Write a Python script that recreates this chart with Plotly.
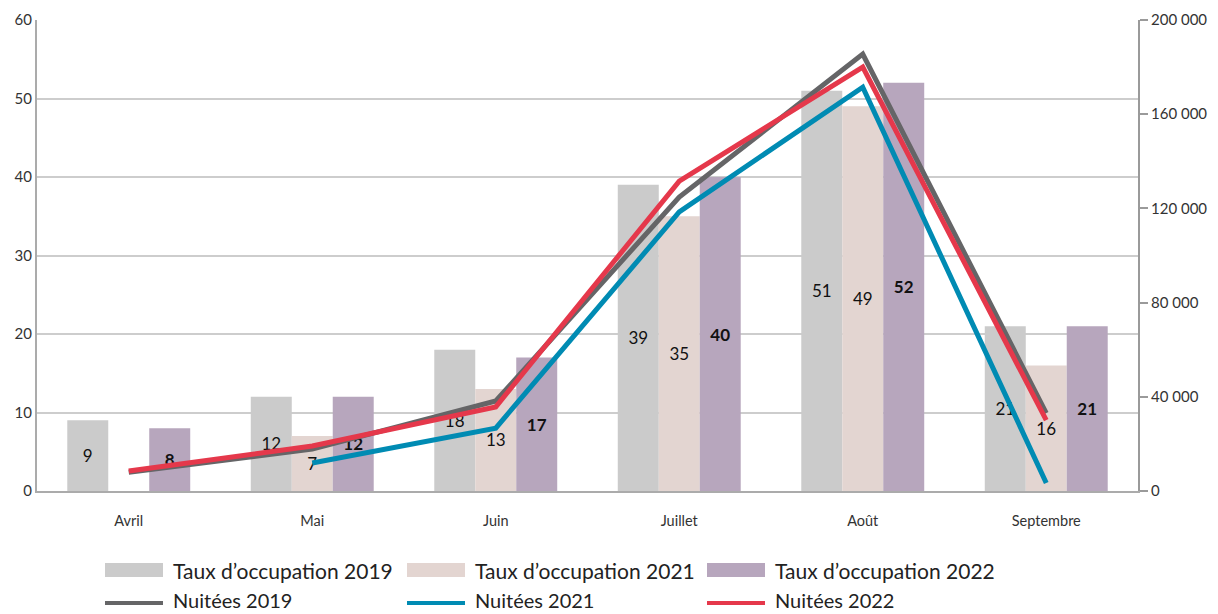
import plotly.graph_objects as go

months = ["Avril", "Mai", "Juin", "Juillet", "Août", "Septembre"]
taux_2019 = [9, 12, 18, 39, 51, 21]
taux_2021 = [None, 7, 13, 35, 49, 16]
taux_2022 = [8, 12, 17, 40, 52, 21]
nuitees_2019 = [8000, 17800, 38200, 124800, 185500, 33100]
nuitees_2021 = [None, 11900, 26700, 118500, 171500, 3400]
nuitees_2022 = [8500, 19100, 35700, 131600, 180000, 30100]
left_ticks = [0, 10, 20, 30, 40, 50, 60]
right_ticks = [0, 40000, 80000, 120000, 160000, 200000]
right_labels = ["0", "40 000", "80 000", "120 000", "160 000", "200 000"]

bar_names = ["Taux d’occupation 2019", "Taux d’occupation 2021", "Taux d’occupation 2022"]
line_names = ["Nuitées 2019", "Nuitées 2021", "Nuitées 2022"]
bar_colors = ["#cbcbcb", "#e3d5d1", "#b7a6bd"]
line_colors = ["#656567", "#008bb3", "#e5384b"]

FONT = "Lato"
TXT = "#222222"

fig = go.Figure()
for vals, name, col, bold in zip([taux_2019, taux_2021, taux_2022], bar_names, bar_colors,
                                 [False, False, True]):
    fig.add_trace(go.Bar(
        x=months, y=vals, name=name, marker=dict(color=col, line=dict(width=0)),
        texttemplate="<b>%{y}</b>" if bold else "%{y}",
        textposition="inside", insidetextanchor="middle", constraintext="none",
        textangle=0,
        textfont=dict(family=FONT, size=17, color="#111111"),
        showlegend=False,
    ))

for vals, name, col in zip([nuitees_2019, nuitees_2021, nuitees_2022], line_names, line_colors):
    fig.add_trace(go.Scatter(
        x=months, y=vals, name=name, yaxis="y2", mode="lines",
        line=dict(color=col, width=5), connectgaps=False, showlegend=False,
    ))

# page offset (browser body margin) compensation
OFF = 8
FW, FH = 1218 - OFF, 614 - OFF
L, R, T, B = 37, 1138, 20, 491  # plot area in screen pixels
W, H = R - L, B - T


def px(x):
    return (x - L) / W


def py(y):
    return (B - y) / H


shapes = []
annotations = []
cols_x = [105, 407, 707]
for i in range(3):
    x0 = cols_x[i]
    shapes.append(dict(type="rect", xref="paper", yref="paper",
                       x0=px(x0), x1=px(x0 + 58), y0=py(577), y1=py(563),
                       fillcolor=bar_colors[i], line=dict(width=0)))
    annotations.append(dict(xref="paper", yref="paper", x=px(x0 + 66), y=py(570),
                            xanchor="left", yanchor="middle", showarrow=False,
                            text=bar_names[i], font=dict(family=FONT, size=21, color=TXT)))
    shapes.append(dict(type="line", xref="paper", yref="paper",
                       x0=px(x0), x1=px(x0 + 58), y0=py(603), y1=py(603),
                       line=dict(color=line_colors[i], width=4)))
    annotations.append(dict(xref="paper", yref="paper", x=px(x0 + 66), y=py(600),
                            xanchor="left", yanchor="middle", showarrow=False,
                            text=line_names[i], font=dict(family=FONT, size=20, color=TXT)))

fig.update_layout(
    width=FW, height=FH,
    margin=dict(l=L - OFF, r=FW - (R - OFF), t=T - OFF, b=FH - (B - OFF), autoexpand=False),
    paper_bgcolor="white", plot_bgcolor="white",
    barmode="group", bargap=0.33, bargroupgap=0,
    font=dict(family=FONT, color=TXT),
    showlegend=False,
    shapes=shapes, annotations=annotations,
    xaxis=dict(
        type="category", showgrid=False, showline=True, linecolor="#ababab", linewidth=2,
        ticks="", tickfont=dict(family=FONT, size=14.5, color="#333333"),
        ticklabelstandoff=16, zeroline=False, automargin=False,
    ),
    yaxis=dict(
        range=[0, 60], tickvals=left_ticks, showgrid=True, gridcolor="#cdcdcd", gridwidth=1.5,
        showline=True, linecolor="#ababab", linewidth=2, ticks="",
        tickfont=dict(family=FONT, size=15, color="#333333"), zeroline=False, automargin=False,
    ),
    yaxis2=dict(
        overlaying="y", side="right", range=[0, 200000],
        tickvals=right_ticks, ticktext=right_labels, showgrid=False,
        showline=True, linecolor="#9a9a9a", linewidth=2,
        ticks="outside", ticklen=8, tickcolor="#9a9a9a", tickwidth=1.5,
        tickfont=dict(family=FONT, size=15, color="#333333"), zeroline=False, automargin=False,
    ),
)

fig.write_html("out.html")
